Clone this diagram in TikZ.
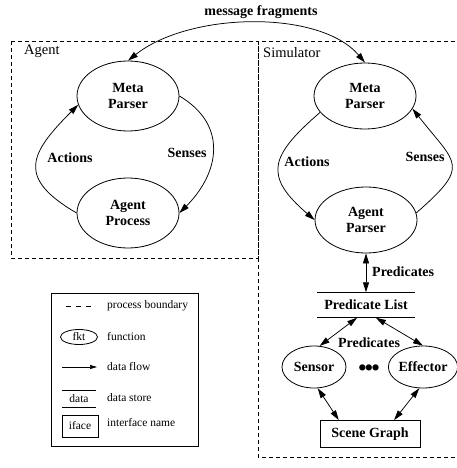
\documentclass[tikz,border=0pt]{standalone}
\usepackage{fontspec}
\setmainfont{Liberation Serif}
\usepackage{tikz}
\usetikzlibrary{arrows.meta, positioning, shapes.geometric, calc}

\begin{document}
\begin{tikzpicture}[
  x=1pt, y=-1pt,
  every node/.style={font=\fontsize{14}{15.5}\selectfont\bfseries, inner sep=0pt},
  proc/.style={draw, ellipse, line width=0.8pt, minimum width=102pt, minimum height=70pt, align=center},
  legendtxt/.style={font=\fontsize{11.5}{13}\selectfont},
  boxlbl/.style={font=\fontsize{14.5}{16}\selectfont, anchor=west},
  flow/.style={-{Triangle[length=10pt, width=6pt]}, line width=0.75pt},
  dflow/.style={{Triangle[length=10pt, width=6pt]}-{Triangle[length=10pt, width=6pt]}, line width=0.75pt},
  boundary/.style={dash pattern=on 4pt off 3pt, line width=0.7pt}
]
  \useasboundingbox (0,0) rectangle (456,468);

  \draw[boundary] (11,41) rectangle (258,258);
  \draw[boundary] (258,41) rectangle (462,457);
  \node[boxlbl] (agentlbl) at (24,51) {Agent};
  \node[boxlbl] (simlbl) at (263,53) {Simulator};

  \node[proc] (ameta) at (128,96) {Meta\\Parser};
  \node[proc] (aproc) at (128,213) {Agent\\Process};
  \node[proc, minimum height=66pt] (smeta) at (365,96) {Meta\\Parser};
  \node[proc, minimum height=66pt] (sparse) at (366,220) {Agent\\Parser};

  \node[minimum width=97pt, minimum height=25pt] (plist) at (366,305) {Predicate List};
  \draw[line width=0.8pt] (plist.north west) -- (plist.north east) (plist.south west) -- (plist.south east);

  \node[proc, minimum width=64pt, minimum height=42pt] (sensor) at (314,367) {Sensor};
  \node[proc, minimum width=62pt, minimum height=42pt] (effector) at (423,367) {Effector};
  \node[font=\fontsize{26}{26}\selectfont] (dots) at (369,371) {•\kern-2.5pt•\kern-2.5pt•};
  \node[draw, line width=0.8pt, minimum width=100pt, minimum height=27pt] (scene) at (370,434) {Scene Graph};

  \node (msg) at (261,12) {message fragments};
  \node (aact) at (70,158) {Actions};
  \node (asen) at (187,153) {Senses};
  \node (sact) at (307,162) {Actions};
  \node (ssen) at (425,157) {Senses};
  \node[anchor=west] (pred1) at (372,272) {Predicates};
  \node (pred2) at (369,343) {Predicates};

  \draw[dflow] (ameta.north) .. controls +(62,-49) and +(-45,-53) .. (smeta.north);
  \draw[flow] (aproc.west) .. controls +(-60,-35) and +(-49,49) .. (ameta.190);
  \draw[flow] (ameta.east) .. controls +(49,29) and +(40,-40) .. (aproc.east);
  \draw[flow] (smeta.200) .. controls +(-51,44) and +(-51,-44) .. (sparse.west);
  \draw[flow] (sparse.8) .. controls +(55,-48) and +(44,56) .. (smeta.345);

  \draw[dflow] (sparse.south) -- (plist.north);
  \draw[dflow] (plist.235) -- (sensor.75);
  \draw[dflow] (plist.308) -- (effector.north);
  \draw[dflow] (sensor.-80) -- (scene.156);
  \draw[dflow] (effector.-100) -- (scene.30);

  \draw[line width=0.8pt] (51,293) rectangle (198,446);
  \draw[dash pattern=on 5pt off 5pt, line width=0.7pt] (66,306) -- (92,306);
  \node[proc, legendtxt, minimum width=37pt, minimum height=15pt] (lfun) at (79,337) {fkt};
  \draw[-{Triangle[length=7pt, width=4pt]}, line width=0.7pt] (62,367) -- (97,367);
  \node[legendtxt, minimum width=34pt, minimum height=16pt] (ldata) at (79,399) {data};
  \draw[line width=0.8pt] (ldata.north west) -- (ldata.north east) (ldata.south west) -- (ldata.south east);
  \node[legendtxt, draw, line width=0.8pt, minimum width=36pt, minimum height=22pt] (liface) at (80,426) {iface};
  \node[legendtxt, anchor=west] (tbound) at (107,306) {process boundary};
  \node[legendtxt, anchor=west] (tfun) at (107,337) {function};
  \node[legendtxt, anchor=west] (tflow) at (107,367) {data flow};
  \node[legendtxt, anchor=west] (tstore) at (107,398) {data store};
  \node[legendtxt, anchor=west] (tiface) at (107,423) {interface name};

\end{tikzpicture}
\end{document}
